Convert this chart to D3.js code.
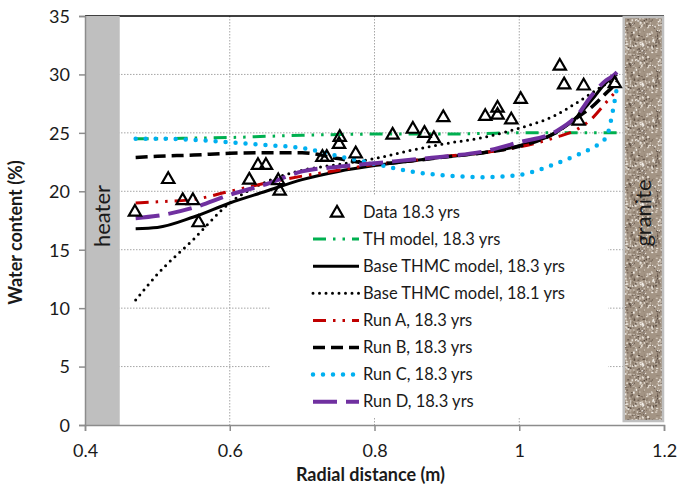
<!DOCTYPE html>
<html>
<head>
<meta charset="utf-8">
<script src="https://cdn.jsdelivr.net/npm/d3@7"></script>
<style>
  body { margin: 0; background: #fff; }
  text { font-family: Lato, "Open Sans", sans-serif; fill: #1a1a1a; }
</style>
</head>
<body>
<div id="chart"></div>
<script>
// data
var dataX = [0.469, 0.515, 0.535, 0.549, 0.557, 0.627, 0.639, 0.650, 0.667, 0.669,
             0.728, 0.734, 0.752, 0.751, 0.774, 0.825, 0.853, 0.869, 0.882, 0.895,
             0.953, 0.970, 0.970, 0.989, 1.002, 1.056, 1.062, 1.082, 1.089, 1.132];
var dataY = [18.3, 21.1, 19.3, 19.3, 17.4, 21.05, 22.3, 22.3, 21.0, 20.1,
             23.0, 23.0, 24.7, 24.1, 23.3, 24.9, 25.4, 25.05, 24.6, 26.4,
             26.5, 27.2, 26.6, 26.2, 27.95, 30.8, 29.2, 26.1, 29.1, 29.3];

var modelX = [0.47, 0.5, 0.55, 0.6, 0.65, 0.7, 0.75, 0.8, 0.85, 0.9, 0.95, 1.0, 1.05, 1.08, 1.1, 1.12, 1.13, 1.135];
var thModel   = [24.5, 24.5, 24.55, 24.6, 24.7, 24.8, 24.85, 24.9, 24.9, 24.9, 24.95, 25.0, 25.0, 25.0, 25.0, 25.0, 25.0, 25.0];
var base183   = [16.8, 16.9, 17.8, 19.0, 20.0, 21.0, 21.7, 22.2, 22.6, 22.95, 23.3, 23.9, 25.0, 26.4, 27.8, 29.3, 29.8, 30.0];
var base181   = [10.7, 12.9, 15.9, 19.0, 20.8, 21.8, 22.3, 22.8, 23.5, 24.1, 24.6, 25.4, 26.5, 27.6, 28.4, 29.2, 29.5, 29.7];
var runA      = [19.0, 19.1, 19.3, 20.0, 20.7, 21.3, 21.8, 22.3, 22.6, 23.0, 23.3, 23.8, 24.6, 25.3, 26.2, 27.6, 28.3, 28.6];
var runB      = [22.9, 23.0, 23.1, 23.25, 23.3, 23.3, 22.8, 22.35, 22.6, 22.95, 23.3, 23.85, 25.0, 26.3, 27.2, 28.4, 29.0, 29.4];
var runC      = [24.5, 24.5, 24.4, 24.2, 23.95, 23.7, 23.0, 22.35, 21.7, 21.35, 21.2, 21.4, 22.35, 23.1, 23.7, 24.6, 27.1, 28.9];
var runD      = [17.7, 17.9, 18.6, 19.7, 20.6, 21.7, 22.1, 22.4, 22.7, 23.0, 23.4, 24.2, 25.1, 26.5, 28.2, 29.5, 29.9, 30.2];

var xTicks = [0.4, 0.6, 0.8, 1, 1.2];
var yTicks = [0, 5, 10, 15, 20, 25, 30, 35];
var heaterRange = [0.4, 0.448];
var graniteRange = [1.143, 1.2];

var series = [
  { name: "TH model, 18.3 yrs", y: thModel, color: "#00b050", width: 3, dash: "13,7,2.5,7,2.5,7", cap: "butt" },
  { name: "Base THMC model, 18.3 yrs", y: base183, color: "#000000", width: 3, dash: null, cap: "butt" },
  { name: "Base THMC model, 18.1 yrs", y: base181, color: "#000000", width: 3, dash: "0,6.5", cap: "round" },
  { name: "Run A, 18.3 yrs", y: runA, color: "#c00000", width: 3, dash: "13,7,2.5,7,2.5,7", cap: "butt" },
  { name: "Run B, 18.3 yrs", y: runB, color: "#000000", width: 3.5, dash: "12,6", cap: "butt" },
  { name: "Run C, 18.3 yrs", y: runC, color: "#00b0f0", width: 4.5, dash: "0,10", cap: "round" },
  { name: "Run D, 18.3 yrs", y: runD, color: "#7030a0", width: 4, dash: "24,9", cap: "butt" }
];

var svgWidth = 691;
var svgHeight = 488;
var margin = { top: 16, right: 27, bottom: 63, left: 85 };
var width = svgWidth - margin.left - margin.right;
var height = svgHeight - margin.top - margin.bottom;

var svg = d3.select("#chart")
  .append("svg")
  .attr("width", svgWidth)
  .attr("height", svgHeight);

var chartGroup = svg.append("g")
  .attr("transform", `translate(${margin.left},${margin.top})`);

var xScale = d3.scaleLinear().domain([0.4, 1.2]).range([0, width]);
var yScale = d3.scaleLinear().domain([0, 35]).range([height, 0]);

// granite speckle texture
var defs = svg.append("defs");
var pattern = defs.append("pattern")
  .attr("id", "granite")
  .attr("patternUnits", "userSpaceOnUse")
  .attr("width", 40)
  .attr("height", 40);
pattern.append("rect").attr("width", 40).attr("height", 40).attr("fill", "#a39484");
var seed = 7;
function rnd() { seed = (seed * 16807) % 2147483647; return seed / 2147483647; }
var speckColors = ["#e4ddd3", "#5a4c42", "#cfc4b7", "#7d6d60", "#f2eee8", "#8f8070"];
for (var i = 0; i < 320; i++) {
  pattern.append("rect")
    .attr("x", rnd() * 40)
    .attr("y", rnd() * 40)
    .attr("width", 0.8 + rnd() * 1.4)
    .attr("height", 0.8 + rnd() * 1.4)
    .attr("fill", speckColors[Math.floor(rnd() * speckColors.length)]);
}

// gridlines
chartGroup.append("g")
  .selectAll("line")
  .data(yTicks.filter(d => d > 0 && d < 35))
  .enter()
  .append("line")
  .attr("x1", 0)
  .attr("x2", width)
  .attr("y1", d => yScale(d))
  .attr("y2", d => yScale(d))
  .attr("stroke", "#a6a6a6")
  .attr("stroke-dasharray", "1.5,1.5");

chartGroup.append("g")
  .selectAll("line")
  .data(xTicks.filter(d => d > 0.4 && d < 1.2))
  .enter()
  .append("line")
  .attr("x1", d => xScale(d))
  .attr("x2", d => xScale(d))
  .attr("y1", 0)
  .attr("y2", height)
  .attr("stroke", "#a6a6a6")
  .attr("stroke-dasharray", "1.5,1.5");

// top border
chartGroup.append("line")
  .attr("x1", 0)
  .attr("x2", width)
  .attr("y1", 0)
  .attr("y2", 0)
  .attr("stroke", "#000")
  .attr("stroke-width", 1.5);

// heater and granite bands
chartGroup.append("rect")
  .attr("x", xScale(heaterRange[0]))
  .attr("y", 0)
  .attr("width", xScale(heaterRange[1]) - xScale(heaterRange[0]))
  .attr("height", height)
  .attr("fill", "#bfbfbf");

chartGroup.append("rect")
  .attr("x", xScale(graniteRange[0]) + 1)
  .attr("y", 1)
  .attr("width", xScale(graniteRange[1]) - xScale(graniteRange[0]) - 2)
  .attr("height", height - 5)
  .attr("fill", "url(#granite)")
  .attr("stroke", "#bfbfbf")
  .attr("stroke-width", 2.5);

chartGroup.append("text")
  .attr("transform", `translate(${xScale(0.424) + 8}, 200) rotate(-90)`)
  .attr("text-anchor", "middle")
  .style("font-size", "22px")
  .text("heater");

chartGroup.append("text")
  .attr("transform", `translate(${xScale(1.1715) + 8}, 197) rotate(-90)`)
  .attr("text-anchor", "middle")
  .style("font-size", "22px")
  .text("granite");

// legend box (drawn before the lines, it hides the gridlines only)
var legendX = 185;
var legendY = 180;
chartGroup.append("rect")
  .attr("x", legendX)
  .attr("y", legendY)
  .attr("width", 338)
  .attr("height", 222)
  .attr("fill", "#fff");

// model lines
var line = d3.line()
  .x((d, i) => xScale(modelX[i]))
  .y(d => yScale(d))
  .curve(d3.curveMonotoneX);

chartGroup.append("g")
  .selectAll("path")
  .data(series)
  .enter()
  .append("path")
  .attr("d", d => line(d.y))
  .attr("fill", "none")
  .attr("stroke", d => d.color)
  .attr("stroke-width", d => d.width)
  .attr("stroke-dasharray", d => d.dash)
  .attr("stroke-linecap", d => d.cap);

// data triangles
var tri = d3.symbol().type(d3.symbolTriangle).size(66);
chartGroup.append("g")
  .selectAll("path")
  .data(dataX)
  .enter()
  .append("path")
  .attr("d", tri)
  .attr("transform", (d, i) => `translate(${xScale(d)},${yScale(dataY[i]) + 1})`)
  .attr("fill", "none")
  .attr("stroke", "#000")
  .attr("stroke-width", 2.2);

// axes
var bottomAxis = d3.axisBottom(xScale).tickValues(xTicks).tickSize(6).tickPadding(13)
  .tickFormat(d => d === 1 ? "1" : d3.format(".1f")(d));
var leftAxis = d3.axisLeft(yScale).tickValues(yTicks).tickSize(6).tickPadding(9);

var xAxis = chartGroup.append("g")
  .attr("transform", `translate(0, ${height})`)
  .call(bottomAxis);
var yAxis = chartGroup.append("g").call(leftAxis);

[xAxis, yAxis].forEach(ax => {
  ax.select(".domain").attr("stroke", "#8c8c8c").attr("stroke-width", 1.5);
  ax.selectAll(".tick line").attr("stroke", "#8c8c8c").attr("stroke-width", 1.5);
  ax.selectAll(".tick text")
    .style("font-family", "Lato, 'Open Sans', sans-serif")
    .style("font-size", "18px")
    .attr("fill", "#1a1a1a");
});
yAxis.selectAll(".tick text").attr("dy", "0.35em");

// axis titles
chartGroup.append("text")
  .attr("x", width / 2 - 4)
  .attr("y", height + 56)
  .attr("text-anchor", "middle")
  .style("font-size", "18px")
  .style("font-weight", "bold")
  .text("Radial distance (m)");

chartGroup.append("text")
  .attr("transform", "rotate(-90)")
  .attr("x", -(height / 2) - 12)
  .attr("y", -63)
  .attr("text-anchor", "middle")
  .style("font-size", "18px")
  .style("font-weight", "bold")
  .text("Water content (%)");

// legend entries
var legendGroup = chartGroup.append("g")
  .attr("transform", `translate(${legendX}, ${legendY})`);

var rowH = 27.1;
legendGroup.append("path")
  .attr("d", tri)
  .attr("transform", `translate(67, ${17})`)
  .attr("fill", "none")
  .attr("stroke", "#000")
  .attr("stroke-width", 2.2);
legendGroup.append("text")
  .attr("x", 93)
  .attr("y", 16)
  .attr("dy", "0.35em")
  .style("font-size", "16.5px")
  .text("Data 18.3 yrs");

var rows = legendGroup.selectAll(".row")
  .data(series)
  .enter()
  .append("g")
  .attr("class", "row")
  .attr("transform", (d, i) => `translate(0, ${16 + rowH * (i + 1)})`);

rows.append("line")
  .attr("x1", 43)
  .attr("x2", 89)
  .attr("stroke", d => d.color)
  .attr("stroke-width", d => d.width)
  .attr("stroke-dasharray", d => d.dash)
  .attr("stroke-linecap", d => d.cap);

rows.append("text")
  .attr("x", 93)
  .attr("dy", "0.35em")
  .style("font-size", "16.5px")
  .text(d => d.name);
</script>
</body>
</html>
